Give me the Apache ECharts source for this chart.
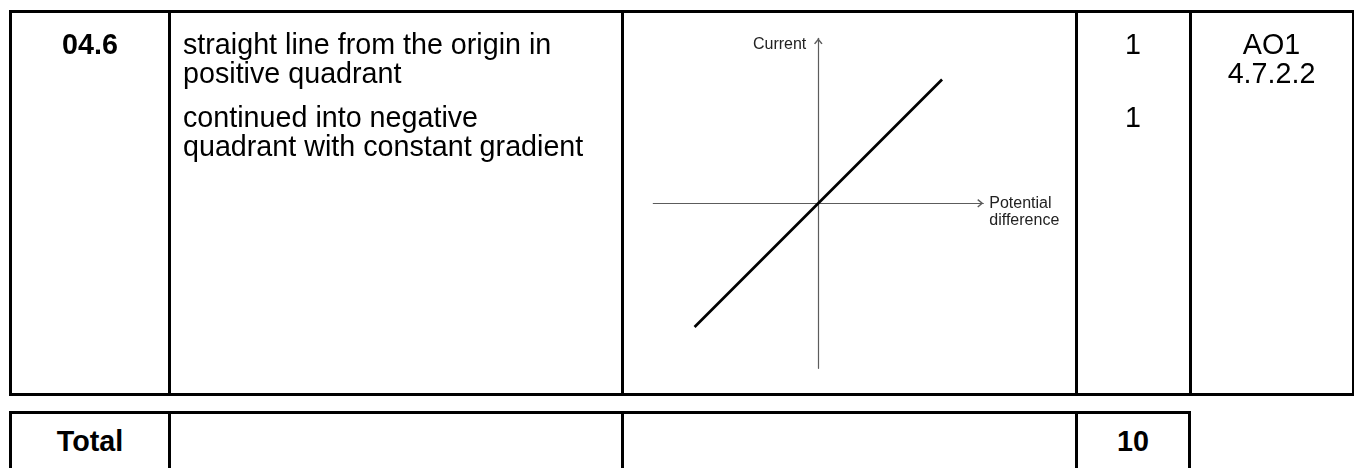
<!DOCTYPE html>
<html>
<head>
<meta charset="utf-8">
<script src="https://cdn.jsdelivr.net/npm/echarts@6/dist/echarts.min.js"></script>
<style>
  html, body { margin: 0; padding: 0; background: #fff; }
  body {
    width: 1354px; height: 468px; position: relative; overflow: hidden;
    font-family: "Liberation Sans", Arial, Helvetica, sans-serif; color: #000;
  }
  .box { position: absolute; border: 3px solid #000; box-sizing: border-box; }
  .vline { position: absolute; width: 3px; background: #000; }
  .cell { position: absolute; font-size: 28.7px; line-height: 29px; white-space: nowrap; }
  .cell.c { text-align: center; }
  .cell.b { font-weight: bold; }
  #chart { position: absolute; left: 624px; top: 13px; width: 451px; height: 380px; }
</style>
</head>
<body>
<div id="chart"></div>
<script>
// table text
const questionIds = ["04.6"];
const answerParas = [
  ["straight line from the origin in", "positive quadrant"],
  ["continued into negative", "quadrant with constant gradient"],
];
const paraMarks = ["1", "1"];
const aoLines = ["AO1", "4.7.2.2"];
const totalLabel = "Total";
const totalMarks = "10";

// sketch graph: current against potential difference
const pd = [-0.75, 0, 0.75];
const current = [-0.75, 0, 0.75];
const xName = "Potential\ndifference";
const yName = "Current";

const LINE = 29;
const GAP = 15.4;
const TOP = 29.9;
const TOTAL_TOP = 427.3;

function el(cls, css, str) {
  const d = document.createElement("div");
  d.className = cls;
  Object.assign(d.style, css);
  if (str != null) d.textContent = str;
  document.body.appendChild(d);
  return d;
}

function text(x, y, w, str, cls) {
  const css = { left: x + "px", top: y + "px" };
  if (w) css.width = w + "px";
  el("cell " + (cls || ""), css, str);
}

// borders
el("box", { left: "9px", top: "10px", width: "1346px", height: "386px" });
[168, 621, 1075, 1189].forEach((x) =>
  el("vline", { left: x + "px", top: "10px", height: "386px" })
);
el("box", { left: "9px", top: "411px", width: "1182px", height: "60px" });
[168, 621, 1075].forEach((x) =>
  el("vline", { left: x + "px", top: "411px", height: "60px" })
);

// main row
questionIds.forEach((q) => text(12, TOP, 156, q, "c b"));
let y = TOP;
answerParas.forEach((lines, i) => {
  lines.forEach((ln, j) => text(183, y + j * LINE, 0, ln));
  text(1077, y, 112, paraMarks[i], "c");
  y += lines.length * LINE + GAP;
});
aoLines.forEach((ln, j) => text(1191, TOP + j * LINE, 161, ln, "c"));

// total row
text(12, TOTAL_TOP, 156, totalLabel, "c b");
text(1077, TOTAL_TOP, 112, totalMarks, "c b");

// graph
const chart = echarts.init(document.getElementById("chart"));
const AXIS = "#5c5c5c";
const CHEVRON = "path://M5,0L10,6L8.6,7L5,2.6L1.4,7L0,6Z";
const NAME_FONT = { fontFamily: "Liberation Sans", fontSize: 16, color: "#222" };

const axisBase = {
  type: "value",
  min: -1,
  max: 1,
  nameLocation: "end",
  axisLine: {
    onZero: true,
    lineStyle: { color: AXIS, width: 1.2 },
    symbol: ["none", CHEVRON],
    symbolSize: [9, 6],
    symbolOffset: [0, -3],
  },
  axisTick: { show: false },
  axisLabel: { show: false },
  splitLine: { show: false },
};

chart.setOption({
  animation: false,
  grid: { left: 29.3, top: 25.3, width: 330, height: 330 },
  xAxis: { ...axisBase },
  yAxis: {
    ...axisBase,
    name: yName,
    nameGap: -6,
    nameTextStyle: {
      ...NAME_FONT,
      align: "right",
      verticalAlign: "middle",
      padding: [0, 12, 0, 0],
    },
  },
  series: [
    {
      type: "line",
      data: pd.map((v, i) => [v, current[i]]),
      symbol: "none",
      silent: true,
      z: 5,
      lineStyle: { color: "#000", width: 2.7 },
    },
  ],
});

// x axis title: first line level with the axis, second line under it
const xEnd = chart.convertToPixel({ gridIndex: 0 }, [1, 0]);
chart.setOption({
  graphic: [
    {
      type: "text",
      x: xEnd[0] + 6,
      y: xEnd[1] - 8.7,
      silent: true,
      style: {
        text: xName,
        fill: NAME_FONT.color,
        fontFamily: NAME_FONT.fontFamily,
        fontSize: NAME_FONT.fontSize,
        lineHeight: 17.4,
        align: "left",
        verticalAlign: "top",
      },
    },
  ],
});
</script>
</body>
</html>
